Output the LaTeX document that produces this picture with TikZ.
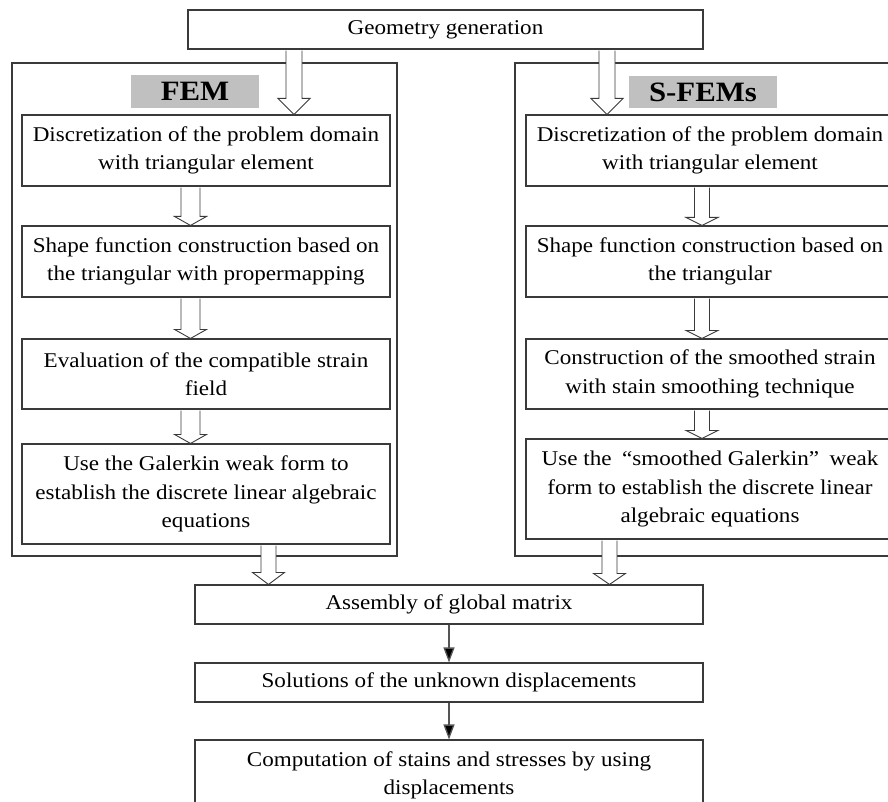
\documentclass[tikz,border=0pt]{standalone}
\usepackage{fontspec}
\setmainfont{Liberation Serif}[FakeStretch=1.1]
\usetikzlibrary{arrows.meta,calc}
\definecolor{boxcol}{HTML}{3A3A3A}
\definecolor{labgray}{HTML}{C0C0C0}
\definecolor{linegray}{HTML}{555555}
\newcommand\bodyfont{\fontsize{21}{28.5}\selectfont}
\newcommand\labfont{\fontsize{28}{30}\selectfont\bfseries}
% #1 from node, #2 to node, #3 x centre, #4 shaft half width, #5 head half width, #6 head length
\newcommand\hollowarrow[6]{%
  \filldraw[harrow] let \p1=(#1.south), \p2=(#2.north) in
   ({#3pt-#4pt},{\y1-1pt}) -- ({#3pt-#4pt},{\y2+#6pt}) -- ({#3pt-#5pt},{\y2+#6pt}) --
   (#3pt,\y2) -- ({#3pt+#5pt},{\y2+#6pt}) -- ({#3pt+#4pt},{\y2+#6pt}) -- ({#3pt+#4pt},{\y1-1pt});}
\begin{document}
\begin{tikzpicture}[x=1pt,y=1pt,
  box/.style={draw=boxcol, line width=1.1pt, inner sep=0pt, align=center, font=\bodyfont},
  stepbox/.style={box, minimum width=368pt},
  outerbox/.style={draw=boxcol, line width=1.1pt, inner sep=0pt},
  label/.style={fill=labgray, inner sep=0pt, font=\labfont},
  harrow/.style={draw=boxcol, fill=white, line width=0.9pt, line join=miter},
  blackarrow/.style={draw=linegray, line width=1.3pt, -{Triangle[length=15pt,width=11pt,fill=black]}}
]
\useasboundingbox (0,0) rectangle (888,-802);
\fill[white] (0,0) rectangle (888,-802);
\clip (0,0) rectangle (888,-802);

% top
\node[box, minimum width=515pt, minimum height=39pt] (geo) at (445.5,-29.5) {Geometry generation};

% outer boxes
\node[outerbox, minimum width=385pt, minimum height=493pt] (lout) at (204.5,-309.5) {};
\node[outerbox, minimum width=386pt, minimum height=493pt] (rout) at (708,-309.5) {};

% labels
\node[label, minimum width=128pt, minimum height=33pt] (femlab) at (195,-91.5) {FEM};
\node[label, minimum width=148pt, minimum height=32pt] (sfemlab) at (703,-92) {S-FEMs};

% left column
\node[stepbox, minimum height=71pt] (l1) at (206,-150.5) {Discretization of the problem domain\\with triangular element};
\node[stepbox, minimum height=71pt] (l2) at (206,-261.5) {Shape function construction based on\\the triangular with propermapping};
\node[stepbox, minimum height=70pt] (l3) at (206,-374) {Evaluation of the compatible strain\\field};
\node[stepbox, minimum height=100pt] (l4) at (206,-494) {Use the Galerkin weak form to\\establish the discrete linear algebraic\\equations};

% right column
\node[stepbox, minimum height=71pt] (r1) at (710,-150.5) {Discretization of the problem domain\\with triangular element};
\node[stepbox, minimum height=71pt] (r2) at (710,-261.5) {Shape function construction based on\\the triangular};
\node[stepbox, minimum height=70pt] (r3) at (710,-374) {Construction of the smoothed strain\\with stain smoothing technique};
\node[stepbox, minimum height=100pt] (r4) at (710,-489) {Use the\hspace{0.5em}“smoothed Galerkin”\hspace{0.5em}weak\\form to establish the discrete linear\\algebraic equations};

% bottom
\node[box, minimum width=508pt, minimum height=39pt] (asm) at (449,-604.5) {Assembly of global matrix};
\node[box, minimum width=508pt, minimum height=39pt] (sol) at (449,-682.5) {Solutions of the unknown displacements};
\node[box, minimum width=508pt, minimum height=71pt] (comp) at (449,-775.5) {Computation of stains and stresses by using\\displacements};

% hollow arrows
\hollowarrow{geo}{l1}{294}{8}{16}{16}
\hollowarrow{geo}{r1}{607}{8}{16}{16}
\hollowarrow{l1}{l2}{190.5}{9.5}{16}{9}
\hollowarrow{l2}{l3}{190.5}{9.5}{16}{9}
\hollowarrow{l3}{l4}{190.5}{9.5}{16}{9}
\hollowarrow{r1}{r2}{702}{7.5}{16}{8}
\hollowarrow{r2}{r3}{702}{7.5}{16}{8}
\hollowarrow{r3}{r4}{702}{7.5}{16}{8}
\hollowarrow{l4}{asm}{268.5}{7.5}{16}{12}
\hollowarrow{r4}{asm}{609.5}{7.5}{16}{11}

% black arrows
\draw[blackarrow] (asm) -- (sol);
\draw[blackarrow] (sol) -- (comp);
\end{tikzpicture}
\end{document}
